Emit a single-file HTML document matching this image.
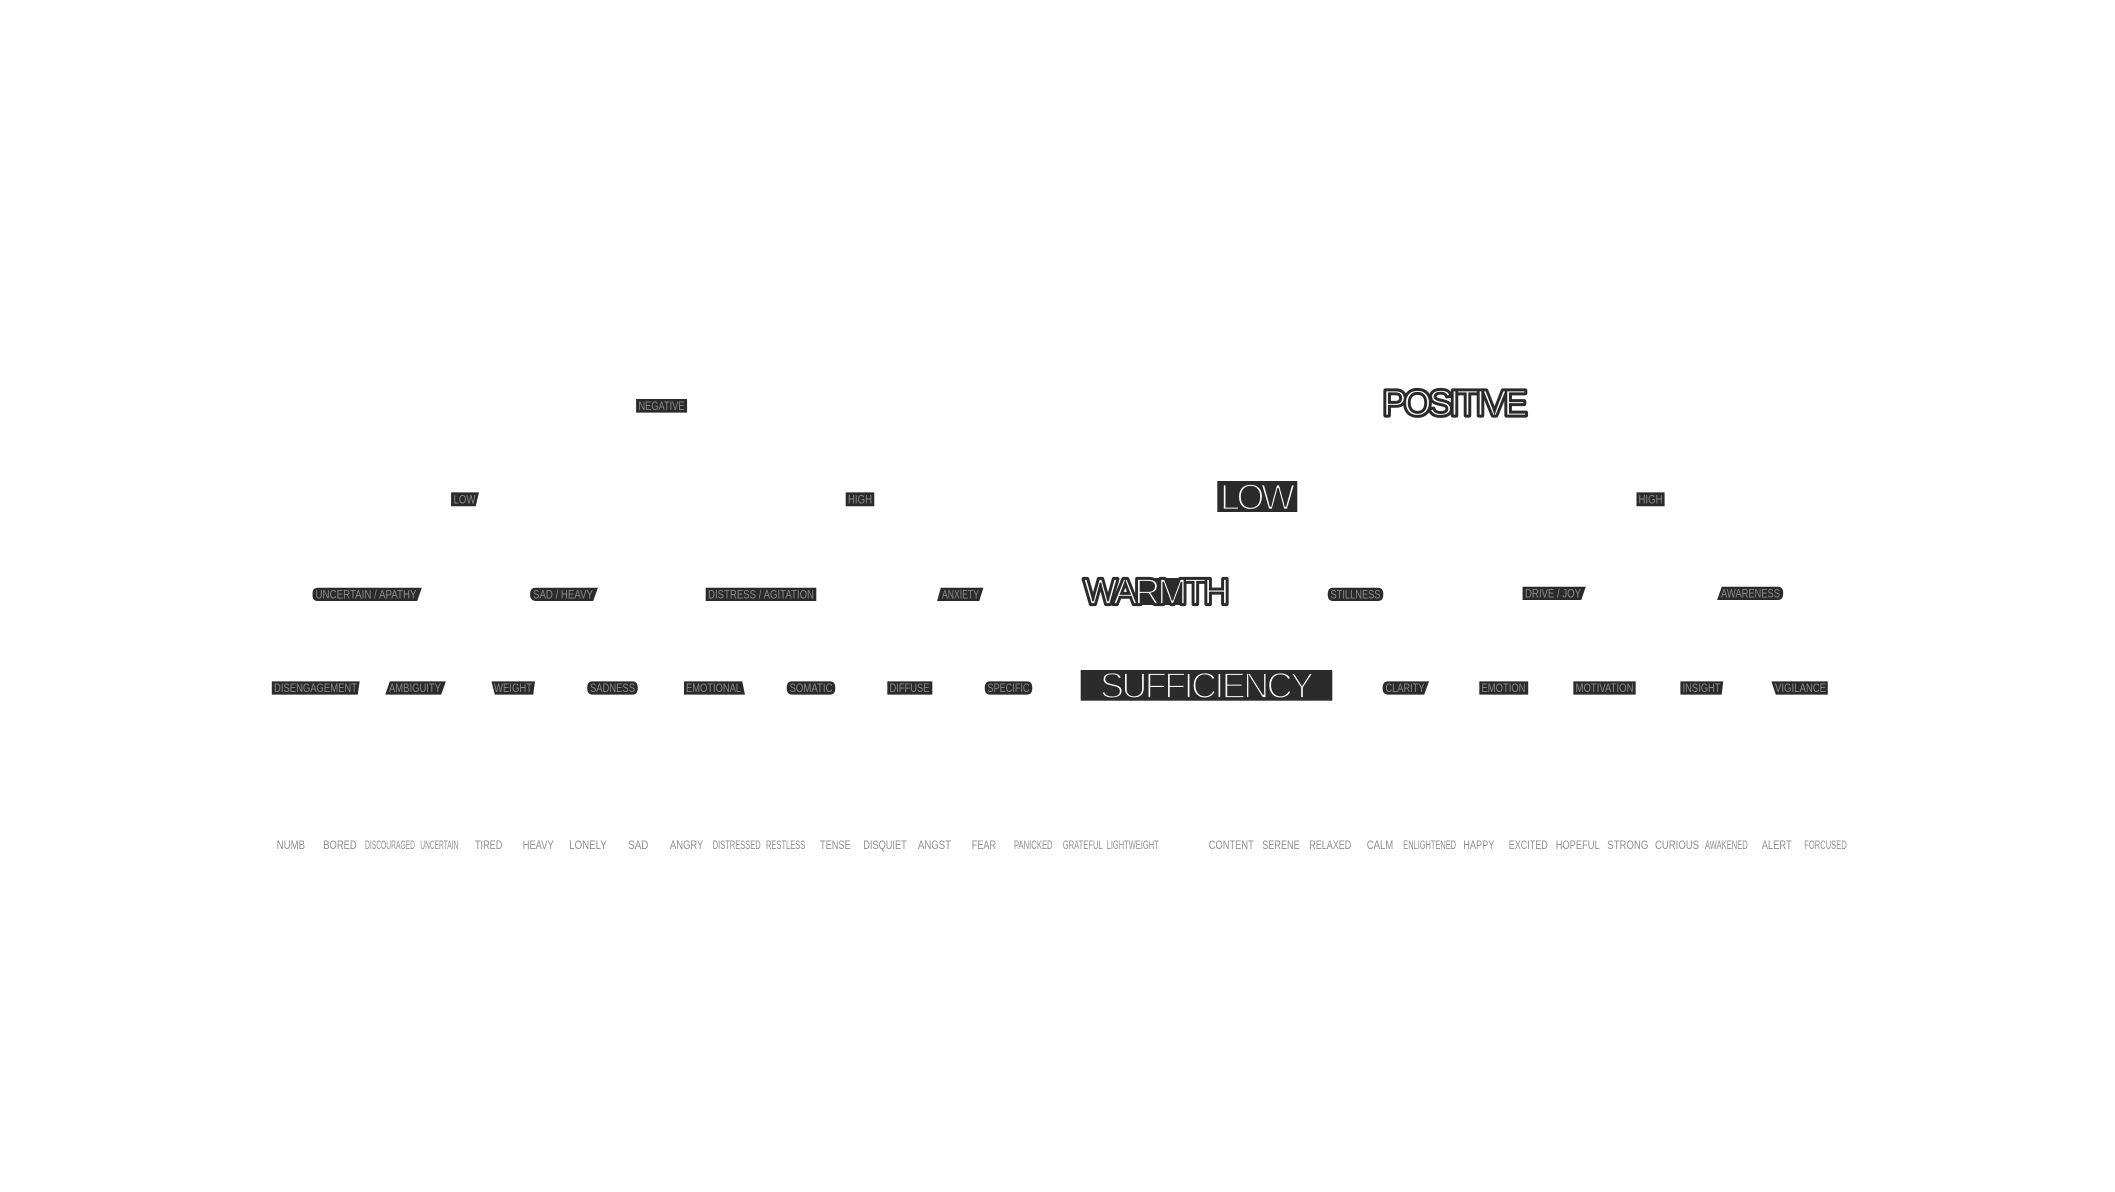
<!DOCTYPE html>
<html lang="en">
<head>
<meta charset="utf-8">
<title>Emotion hierarchy</title>
<style>
html,body{margin:0;padding:0;background:#fff;}
svg{display:block;}
text{font-family:"Liberation Sans",sans-serif;}
.s path{fill:#2b2b2b;stroke:#2b2b2b;stroke-width:.6px;}
.s text{font-size:11.5px;fill:#8c8c8c;}
.b{font-size:36px;}
.h{fill:#2b2b2b;stroke:#2b2b2b;stroke-width:4.2px;stroke-linejoin:round;}
.w{fill:#fff;stroke:#2b2b2b;stroke-width:1.7px;}
.l text{font-size:11.6px;fill:#8e8e8e;}
</style>
</head>
<body>
<svg xmlns="http://www.w3.org/2000/svg" width="2115" height="1192" viewBox="0 0 2115 1192">
<rect width="2115" height="1192" fill="#ffffff"/>

<g class="s"><path d="M636.4 399.3H686.8V412.3H636.4Z"/><text x="638.5" y="409.9" textLength="46" lengthAdjust="spacingAndGlyphs">NEGATIVE</text></g>

<g><text class="b h" x="1382.5" y="415.7" textLength="145">POSITIVE</text><text class="b w" x="1382.5" y="415.7" textLength="145">POSITIVE</text></g>

<g class="s"><path d="M451.4 492.7H478.6L475.5 506H451.4Z"/><text x="453.5" y="503.6" textLength="22" lengthAdjust="spacingAndGlyphs">LOW</text></g>
<g class="s"><path d="M846 492.7H874V506H846Z"/><text x="848" y="503.6" textLength="24" lengthAdjust="spacingAndGlyphs">HIGH</text></g>
<g><rect x="1217.3" y="481" width="80" height="31" fill="#2b2b2b"/><text class="b w" x="1220" y="509.4" textLength="75">LOW</text></g>
<g class="s"><path d="M1636.8 492.7H1664.3V506H1636.8Z"/><text x="1638.5" y="503.6" textLength="24" lengthAdjust="spacingAndGlyphs">HIGH</text></g>

<g class="s"><path d="M318 588H421.4L417 600.7H318Q312.9 600.7 312.9 596V593Q312.9 588 318 588Z"/><text x="315.5" y="598.5" textLength="101" lengthAdjust="spacingAndGlyphs">UNCERTAIN / APATHY</text></g>
<g class="s"><path d="M536 588H597.5L593 600.7H536Q530.4 600.7 530.4 594.3Q530.4 588 536 588Z"/><text x="533" y="598.5" textLength="60" lengthAdjust="spacingAndGlyphs">SAD / HEAVY</text></g>
<g class="s"><path d="M706 588H816V600.7H706Z"/><text x="708" y="598.5" textLength="106" lengthAdjust="spacingAndGlyphs">DISTRESS / AGITATION</text></g>
<g class="s"><path d="M941 588H983L979 600.7H937.5Z"/><text x="942" y="598.5" textLength="37" lengthAdjust="spacingAndGlyphs">ANXIETY</text></g>
<g><rect x="1137" y="578" width="49" height="27" fill="#2b2b2b"/><text class="b h" x="1083.5" y="604.2" textLength="146">WARMTH</text><text class="b w" x="1083.5" y="604.2" textLength="146">WARMTH</text></g>
<g class="s"><path d="M1333 588H1378Q1383 588 1383 594.3Q1383 600.7 1378 600.7H1333Q1328 600.7 1328 594.3Q1328 588 1333 588Z"/><text x="1330.5" y="598.5" textLength="50" lengthAdjust="spacingAndGlyphs">STILLNESS</text></g>
<g class="s"><path d="M1522.9 587H1585.4L1581 599.7H1522.9Z"/><text x="1525" y="597.5" textLength="56" lengthAdjust="spacingAndGlyphs">DRIVE / JOY</text></g>
<g class="s"><path d="M1722 587H1778Q1782.9 587 1782.9 593.3Q1782.9 599.7 1778 599.7H1717.5Z"/><text x="1721" y="597.5" textLength="59" lengthAdjust="spacingAndGlyphs">AWARENESS</text></g>

<g class="s"><path d="M272.1 681.7H359.3L357.5 694.3H272.1Z"/><text x="274" y="692.2" textLength="83" lengthAdjust="spacingAndGlyphs">DISENGAGEMENT</text></g>
<g class="s"><path d="M390 681.7H445.4L441 694.3H385.7Z"/><text x="389" y="692.2" textLength="52" lengthAdjust="spacingAndGlyphs">AMBIGUITY</text></g>
<g class="s"><path d="M491.8 681.7H534.6L533 694.3H495Z"/><text x="494" y="692.2" textLength="38" lengthAdjust="spacingAndGlyphs">WEIGHT</text></g>
<g class="s"><path d="M592.5 681.7H632.5Q637.5 681.7 637.5 688Q637.5 694.3 632.5 694.3H592.5Q587.5 694.3 587.5 688Q587.5 681.7 592.5 681.7Z"/><text x="590" y="692.2" textLength="45" lengthAdjust="spacingAndGlyphs">SADNESS</text></g>
<g class="s"><path d="M684.3 681.7H742L744.6 694.3H684.3Z"/><text x="686" y="692.2" textLength="55" lengthAdjust="spacingAndGlyphs">EMOTIONAL</text></g>
<g class="s"><path d="M792 681.7H830Q835 681.7 835 688Q835 694.3 830 694.3H792Q787 694.3 787 688Q787 681.7 792 681.7Z"/><text x="789.5" y="692.2" textLength="43" lengthAdjust="spacingAndGlyphs">SOMATIC</text></g>
<g class="s"><path d="M887.6 681.7H932V694.3H887.6Z"/><text x="889.5" y="692.2" textLength="40" lengthAdjust="spacingAndGlyphs">DIFFUSE</text></g>
<g class="s"><path d="M990 681.7H1027Q1032 681.7 1032 688Q1032 694.3 1027 694.3H990Q985 694.3 985 688Q985 681.7 990 681.7Z"/><text x="987.5" y="692.2" textLength="42" lengthAdjust="spacingAndGlyphs">SPECIFIC</text></g>
<g><rect x="1080.7" y="670" width="251.6" height="30.7" fill="#2b2b2b"/><text class="b w" x="1100" y="698.2" textLength="214">SUFFICIENCY</text></g>
<g class="s"><path d="M1388 681.7H1428.6L1424 694.3H1388Q1382.9 694.3 1382.9 688Q1382.9 681.7 1388 681.7Z"/><text x="1385.5" y="692.2" textLength="39" lengthAdjust="spacingAndGlyphs">CLARITY</text></g>
<g class="s"><path d="M1479.6 681.7H1527.9V694.3H1479.6Z"/><text x="1481.5" y="692.2" textLength="44" lengthAdjust="spacingAndGlyphs">EMOTION</text></g>
<g class="s"><path d="M1573.6 681.7H1635.4V694.3H1573.6Z"/><text x="1575.5" y="692.2" textLength="58" lengthAdjust="spacingAndGlyphs">MOTIVATION</text></g>
<g class="s"><path d="M1680.7 681.7H1722.9L1721.4 694.3H1680.7Z"/><text x="1682.5" y="692.2" textLength="38" lengthAdjust="spacingAndGlyphs">INSIGHT</text></g>
<g class="s"><path d="M1771.8 681.7H1827.5V694.3H1776Z"/><text x="1775" y="692.2" textLength="51" lengthAdjust="spacingAndGlyphs">VIGILANCE</text></g>

<g class="l">
<text x="276.7" y="849" textLength="28.3" lengthAdjust="spacingAndGlyphs">NUMB</text>
<text x="323.3" y="849" textLength="33.4" lengthAdjust="spacingAndGlyphs">BORED</text>
<text x="365" y="849" textLength="50" lengthAdjust="spacingAndGlyphs">DISCOURAGED</text>
<text x="420.3" y="849" textLength="38" lengthAdjust="spacingAndGlyphs">UNCERTAIN</text>
<text x="475" y="849" textLength="27.3" lengthAdjust="spacingAndGlyphs">TIRED</text>
<text x="522.7" y="849" textLength="31" lengthAdjust="spacingAndGlyphs">HEAVY</text>
<text x="569.3" y="849" textLength="37.4" lengthAdjust="spacingAndGlyphs">LONELY</text>
<text x="628.3" y="849" textLength="20" lengthAdjust="spacingAndGlyphs">SAD</text>
<text x="670" y="849" textLength="33.3" lengthAdjust="spacingAndGlyphs">ANGRY</text>
<text x="712.7" y="849" textLength="48" lengthAdjust="spacingAndGlyphs">DISTRESSED</text>
<text x="766" y="849" textLength="39.3" lengthAdjust="spacingAndGlyphs">RESTLESS</text>
<text x="820" y="849" textLength="30.7" lengthAdjust="spacingAndGlyphs">TENSE</text>
<text x="863.3" y="849" textLength="43.4" lengthAdjust="spacingAndGlyphs">DISQUIET</text>
<text x="918" y="849" textLength="33" lengthAdjust="spacingAndGlyphs">ANGST</text>
<text x="971.7" y="849" textLength="24.3" lengthAdjust="spacingAndGlyphs">FEAR</text>
<text x="1014" y="849" textLength="38.6" lengthAdjust="spacingAndGlyphs">PANICKED</text>
<text x="1062.7" y="849" textLength="40" lengthAdjust="spacingAndGlyphs">GRATEFUL</text>
<text x="1106.7" y="849" textLength="52" lengthAdjust="spacingAndGlyphs">LIGHTWEIGHT</text>
<text x="1208.8" y="849" textLength="45" lengthAdjust="spacingAndGlyphs">CONTENT</text>
<text x="1262.3" y="849" textLength="37.4" lengthAdjust="spacingAndGlyphs">SERENE</text>
<text x="1309.3" y="849" textLength="42" lengthAdjust="spacingAndGlyphs">RELAXED</text>
<text x="1366.7" y="849" textLength="26.6" lengthAdjust="spacingAndGlyphs">CALM</text>
<text x="1403.3" y="849" textLength="52.7" lengthAdjust="spacingAndGlyphs">ENLIGHTENED</text>
<text x="1463.3" y="849" textLength="31" lengthAdjust="spacingAndGlyphs">HAPPY</text>
<text x="1508.7" y="849" textLength="39" lengthAdjust="spacingAndGlyphs">EXCITED</text>
<text x="1555.7" y="849" textLength="44" lengthAdjust="spacingAndGlyphs">HOPEFUL</text>
<text x="1607.3" y="849" textLength="41" lengthAdjust="spacingAndGlyphs">STRONG</text>
<text x="1655" y="849" textLength="44" lengthAdjust="spacingAndGlyphs">CURIOUS</text>
<text x="1705" y="849" textLength="42.7" lengthAdjust="spacingAndGlyphs">AWAKENED</text>
<text x="1761.7" y="849" textLength="30" lengthAdjust="spacingAndGlyphs">ALERT</text>
<text x="1804.3" y="849" textLength="42.4" lengthAdjust="spacingAndGlyphs">FORCUSED</text>
</g>
</svg>
</body>
</html>
